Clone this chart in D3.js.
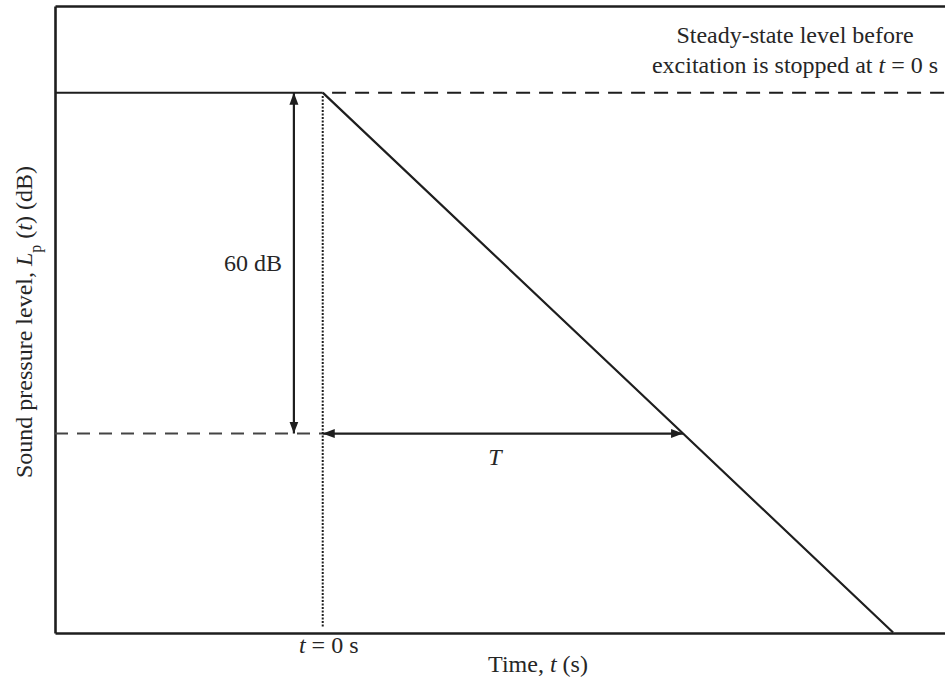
<!DOCTYPE html>
<html>
<head>
<meta charset="utf-8">
<script src="https://cdn.jsdelivr.net/npm/d3@7"></script>
<style>
  body { margin: 0; background: #fff; }
  text { font-family: "Liberation Serif", "Times New Roman", serif; fill: #262626; }
</style>
</head>
<body>
<div id="chart"></div>
<script>
// decay curve (relative level in dB vs time, time in units of T)
const decayTime = [0, 1, 1.583];
const decayLevel = [0, -60, -95];

const steadyLevel = 0;
const dropLevel = -60;
const reverbTime = 1;
const arrowTime = -0.08;   // where the 60 dB arrow sits

const timeDomain = [-0.743, 1.727];
const levelDomain = [-95.1, 15.25];

const titleLines = ["Steady-state level before", "excitation is stopped at "];

const margin = { top: 6, right: 0, bottom: 49, left: 55 };
const width = 945 - margin.left - margin.right;
const height = 682 - margin.top - margin.bottom;
const ink = "#1e1e1e";

const svg = d3.select("#chart")
    .append("svg")
    .attr("width", 945)
    .attr("height", 682);

const defs = svg.append("defs");
defs.append("marker")
    .attr("id", "head")
    .attr("markerUnits", "userSpaceOnUse")
    .attr("viewBox", "0 0 12 10")
    .attr("refX", 12)
    .attr("refY", 5)
    .attr("markerWidth", 12)
    .attr("markerHeight", 10)
    .attr("orient", "auto-start-reverse")
    .append("path")
    .attr("d", "M0,0.5L12,5L0,9.5Z")
    .attr("fill", ink);

const g = svg.append("g")
    .attr("transform", `translate(${margin.left},${margin.top})`);

const x = d3.scaleLinear().domain(timeDomain).range([0, width]);
const y = d3.scaleLinear().domain(levelDomain).range([height, 0]);

// frame: left, top and bottom lines only
const frame = [
    g.append("g").call(d3.axisLeft(y).tickValues([]).tickSizeOuter(0)),
    g.append("g").call(d3.axisTop(x).tickValues([]).tickSizeOuter(0)),
    g.append("g").attr("transform", `translate(0,${height})`)
        .call(d3.axisBottom(x).tickValues([]).tickSizeOuter(0))
];
frame.forEach(a => a.select(".domain").attr("stroke", ink).attr("stroke-width", 2.6));

// steady-state level
g.append("line")
    .attr("x1", x(timeDomain[0])).attr("x2", x(0))
    .attr("y1", y(steadyLevel)).attr("y2", y(steadyLevel))
    .attr("stroke", ink).attr("stroke-width", 2);

g.append("line")
    .attr("x1", x(0.026)).attr("x2", x(timeDomain[1]))
    .attr("y1", y(steadyLevel)).attr("y2", y(steadyLevel))
    .attr("stroke", ink).attr("stroke-width", 2)
    .attr("stroke-dasharray", "14,9");

// level 60 dB down
g.append("line")
    .attr("x1", x(timeDomain[0])).attr("x2", x(0))
    .attr("y1", y(dropLevel)).attr("y2", y(dropLevel))
    .attr("stroke", "#444").attr("stroke-width", 2)
    .attr("stroke-dasharray", "13,9");

// t = 0 marker
g.append("line")
    .attr("x1", x(0)).attr("x2", x(0))
    .attr("y1", y(steadyLevel - 0.6)).attr("y2", y(-94.2))
    .attr("stroke", ink).attr("stroke-width", 2)
    .attr("stroke-dasharray", "2,1.5");

// decay
const decay = decayTime.map((t, i) => ({ t: t, L: decayLevel[i] }));
g.append("path")
    .datum(decay)
    .attr("d", d3.line().x(d => x(d.t)).y(d => y(d.L)))
    .attr("fill", "none")
    .attr("stroke", ink)
    .attr("stroke-width", 2.2);

// 60 dB arrow
g.append("line")
    .attr("x1", x(arrowTime)).attr("x2", x(arrowTime))
    .attr("y1", y(steadyLevel)).attr("y2", y(dropLevel))
    .attr("stroke", ink).attr("stroke-width", 2.2)
    .attr("marker-start", "url(#head)")
    .attr("marker-end", "url(#head)");

// T arrow
g.append("line")
    .attr("x1", x(0)).attr("x2", x(reverbTime))
    .attr("y1", y(dropLevel)).attr("y2", y(dropLevel))
    .attr("stroke", ink).attr("stroke-width", 2.2)
    .attr("marker-start", "url(#head)")
    .attr("marker-end", "url(#head)");

// annotations
g.append("text")
    .attr("x", x(arrowTime) - 12)
    .attr("y", y(dropLevel / 2) + 8)
    .attr("text-anchor", "end")
    .style("font-size", "24px")
    .text("60 dB");

g.append("text")
    .attr("x", x(reverbTime * 0.478))
    .attr("y", y(dropLevel) + 31)
    .attr("text-anchor", "middle")
    .style("font-size", "24px")
    .style("font-style", "italic")
    .text("T");

const t0 = g.append("text")
    .attr("x", x(0) + 6)
    .attr("y", height + 20)
    .attr("text-anchor", "middle")
    .style("font-size", "24px");
t0.append("tspan").style("font-style", "italic").text("t");
t0.append("tspan").text(" = 0 s");

const xl = g.append("text")
    .attr("x", 483)
    .attr("y", height + 39)
    .attr("text-anchor", "middle")
    .style("font-size", "24px");
xl.append("tspan").text("Time, ");
xl.append("tspan").style("font-style", "italic").text("t");
xl.append("tspan").text(" (s)");

const title = g.append("text")
    .attr("text-anchor", "middle")
    .style("font-size", "24px");
title.append("tspan").attr("x", 740).attr("y", 37).text(titleLines[0]);
title.append("tspan").attr("x", 740).attr("y", 67).text(titleLines[1]);
title.append("tspan").style("font-style", "italic").text("t");
title.append("tspan").text(" = 0 s");

const yl = svg.append("text")
    .attr("transform", "translate(32,322) rotate(-90)")
    .attr("text-anchor", "middle")
    .style("font-size", "24px");
yl.append("tspan").text("Sound pressure level, ");
yl.append("tspan").style("font-style", "italic").text("L");
yl.append("tspan").attr("baseline-shift", "sub").style("font-size", "16px").text("p");
yl.append("tspan").text(" (");
yl.append("tspan").style("font-style", "italic").text("t");
yl.append("tspan").text(") (dB)");
</script>
</body>
</html>
